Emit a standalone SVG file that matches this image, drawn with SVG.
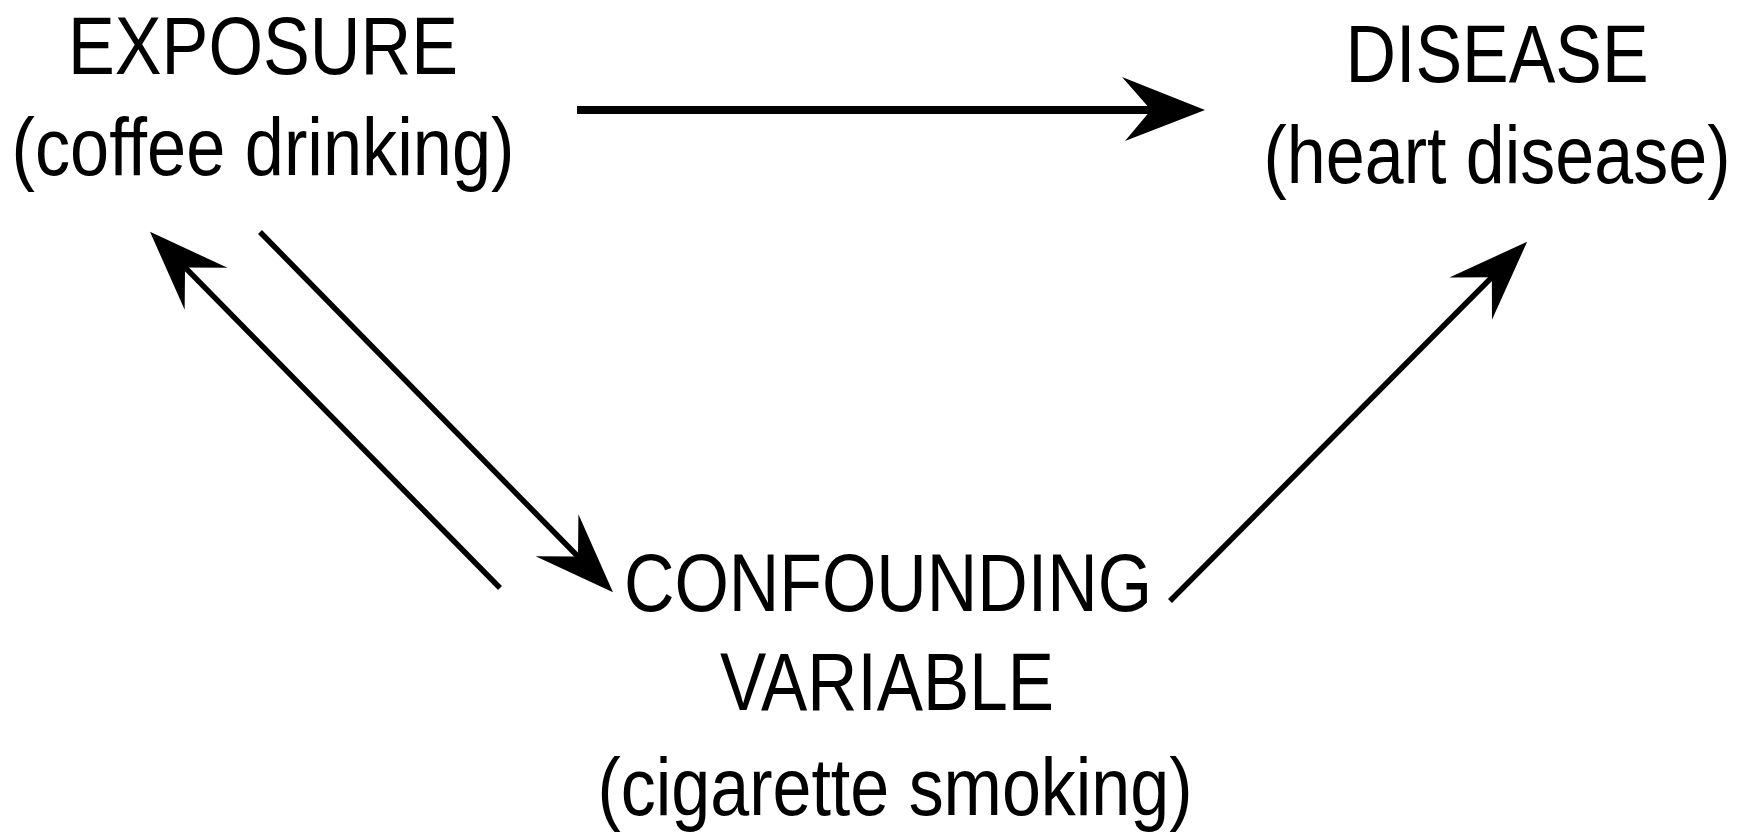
<svg xmlns="http://www.w3.org/2000/svg" width="1744" height="832" viewBox="0 0 1744 832">
<style>
.lbl{font-family:"Liberation Sans",Arial,sans-serif;font-size:82px;fill:#000;text-anchor:middle}
.con{stroke:#000;fill:none;stroke-linecap:butt}
</style>
<defs>
<marker id="headH" markerUnits="userSpaceOnUse" viewBox="-90 -40 95 80" markerWidth="95" markerHeight="80" refX="-18" refY="0" orient="auto" overflow="visible">
<path d="M0,0 L-83,-33 L-54,0 L-80,31 Z" fill="#000"/>
</marker>
<marker id="headD" markerUnits="userSpaceOnUse" viewBox="-85 -35 90 70" markerWidth="90" markerHeight="70" refX="-20" refY="0" orient="auto" overflow="visible">
<path d="M0,0 L-80,-30 L-50,0 L-80,30 Z" fill="#000"/>
</marker>
</defs>
<rect width="1744" height="832" fill="#fff"/>
<g id="exposure">
<text class="lbl" x="263" y="74" textLength="390" lengthAdjust="spacingAndGlyphs">EXPOSURE</text>
<text class="lbl" x="263" y="175" textLength="503" lengthAdjust="spacingAndGlyphs">(coffee drinking)</text>
</g>
<g id="disease">
<text class="lbl" x="1497" y="82" textLength="303" lengthAdjust="spacingAndGlyphs">DISEASE</text>
<text class="lbl" x="1497" y="183" textLength="467" lengthAdjust="spacingAndGlyphs">(heart disease)</text>
</g>
<g id="confounder">
<text class="lbl" x="888" y="611" textLength="528" lengthAdjust="spacingAndGlyphs">CONFOUNDING</text>
<text class="lbl" x="887" y="710" textLength="334" lengthAdjust="spacingAndGlyphs">VARIABLE</text>
<text class="lbl" x="895" y="815" textLength="595" lengthAdjust="spacingAndGlyphs">(cigarette smoking)</text>
</g>
<g id="connectors">
<line class="con" x1="577" y1="110" x2="1187" y2="110" stroke-width="8" marker-end="url(#headH)"/>
<line class="con" x1="500" y1="588" x2="164" y2="246" stroke-width="5.5" marker-end="url(#headD)"/>
<line class="con" x1="260" y1="232" x2="599" y2="578" stroke-width="5.5" marker-end="url(#headD)"/>
<line class="con" x1="1170" y1="601" x2="1513" y2="256" stroke-width="5.5" marker-end="url(#headD)"/>
</g>
</svg>
